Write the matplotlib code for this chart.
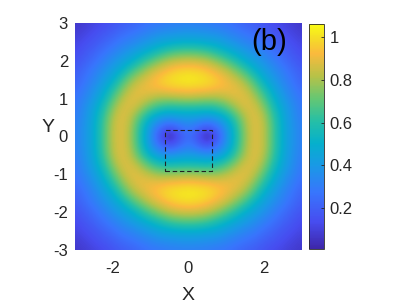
import numpy as np
import matplotlib
matplotlib.use("Agg")
import matplotlib.pyplot as plt
from matplotlib.colors import LinearSegmentedColormap
from matplotlib.patches import Rectangle

plt.rcParams['font.family'] = ['Liberation Sans', 'DejaVu Sans']
plt.rcParams['axes.unicode_minus'] = False

# quarter of the field: rows y = 0, 0.25 ... 3, cols x = 0, 0.25 ... 3
q = np.array([
    [0.26, 0.14, 0.00, 0.15, 0.36, 0.56, 0.77, 0.89, 0.83, 0.65, 0.48, 0.38, 0.31],
    [0.31, 0.24, 0.17, 0.25, 0.39, 0.58, 0.78, 0.89, 0.83, 0.65, 0.48, 0.38, 0.31],
    [0.42, 0.41, 0.38, 0.41, 0.50, 0.65, 0.81, 0.89, 0.81, 0.63, 0.47, 0.37, 0.30],
    [0.58, 0.58, 0.57, 0.60, 0.67, 0.78, 0.87, 0.87, 0.76, 0.58, 0.45, 0.36, 0.28],
    [0.80, 0.79, 0.78, 0.78, 0.82, 0.87, 0.89, 0.82, 0.68, 0.52, 0.41, 0.33, 0.27],
    [0.96, 0.95, 0.94, 0.92, 0.91, 0.90, 0.85, 0.74, 0.59, 0.46, 0.37, 0.30, 0.24],
    [1.03, 1.02, 1.00, 0.96, 0.91, 0.85, 0.77, 0.64, 0.49, 0.41, 0.33, 0.27, 0.21],
    [0.98, 0.97, 0.94, 0.89, 0.83, 0.74, 0.64, 0.51, 0.43, 0.36, 0.30, 0.24, 0.19],
    [0.86, 0.85, 0.82, 0.76, 0.68, 0.59, 0.49, 0.43, 0.37, 0.31, 0.25, 0.20, 0.16],
    [0.68, 0.67, 0.64, 0.58, 0.52, 0.46, 0.41, 0.36, 0.31, 0.26, 0.21, 0.17, 0.13],
    [0.49, 0.49, 0.47, 0.45, 0.41, 0.37, 0.33, 0.30, 0.25, 0.21, 0.17, 0.14, 0.11],
    [0.39, 0.38, 0.37, 0.36, 0.33, 0.30, 0.27, 0.24, 0.20, 0.17, 0.14, 0.11, 0.085],
    [0.31, 0.31, 0.30, 0.28, 0.27, 0.24, 0.21, 0.19, 0.16, 0.13, 0.11, 0.085, 0.07],
])

# mirror the quarter into the full square (field is symmetric in x and y)
half = np.hstack([q[:, :0:-1], q])
field = np.vstack([half[:0:-1], half])

box_x = [-0.62, 0.62]
box_y = [-0.92, 0.17]
clim = [0.01, 1.06]
xticks = [-2, 0, 2]
yticks = [-3, -2, -1, 0, 1, 2, 3]
cbar_ticks = [0.2, 0.4, 0.6, 0.8, 1.0]
cbar_labels = ['0.2', '0.4', '0.6', '0.8', '1']

parula = LinearSegmentedColormap.from_list('parula', [
    (0.00, (0.2422, 0.1504, 0.6603)),
    (0.12, (0.2780, 0.3000, 0.9400)),
    (0.25, (0.2200, 0.4600, 0.9900)),
    (0.37, (0.1000, 0.6000, 0.9000)),
    (0.47, (0.0200, 0.6900, 0.8000)),
    (0.57, (0.1500, 0.7500, 0.6500)),
    (0.67, (0.4000, 0.7800, 0.4500)),
    (0.77, (0.7200, 0.7600, 0.2800)),
    (0.87, (0.9800, 0.7300, 0.2400)),
    (0.94, (0.9600, 0.8700, 0.1500)),
    (1.00, (0.9769, 0.9839, 0.0805)),
])

fig = plt.figure(figsize=(4.07, 3.06), dpi=100)
ax = fig.add_axes([75 / 407, 56 / 306, 227 / 407, 227 / 306])
im = ax.imshow(field, origin='lower', extent=[-3.125, 3.125, -3.125, 3.125],
               cmap=parula, vmin=clim[0], vmax=clim[1], interpolation='bicubic')
ax.set_xlim(-3, 3)
ax.set_ylim(-3, 3)
ax.add_patch(Rectangle((box_x[0], box_y[0]), box_x[1] - box_x[0], box_y[1] - box_y[0],
                       fill=False, ec='#222222', lw=0.8, ls=(0, (4, 2.5))))
ax.text(2.13, 2.5, '(b)', fontsize=21, ha='center', va='center', color='black')

ax.set_xticks(xticks)
ax.set_yticks(yticks)
ax.tick_params(length=0, labelsize=12, colors='#262626')
ax.tick_params(axis='x', pad=8)
ax.tick_params(axis='y', pad=5)
for s in ax.spines.values():
    s.set_visible(False)
ax.set_xlabel('X', fontsize=14, color='#262626', va='top')
ax.xaxis.set_label_coords(0.5, -0.163)
ax.set_ylabel('Y', fontsize=14, color='#262626', rotation=0, va='center', ha='center')
ax.yaxis.set_label_coords(-0.119, 0.54)

cax = fig.add_axes([309 / 407, 57 / 306, 15 / 407, 225 / 306])
cb = fig.colorbar(im, cax=cax, ticks=cbar_ticks)
cb.ax.set_yticklabels(cbar_labels)
cb.ax.tick_params(direction='in', length=2, width=0.6, labelsize=12,
                  colors='#262626', pad=4)
cb.outline.set_linewidth(0.6)
cb.outline.set_edgecolor('#262626')

fig.savefig('out.png', dpi=100)
